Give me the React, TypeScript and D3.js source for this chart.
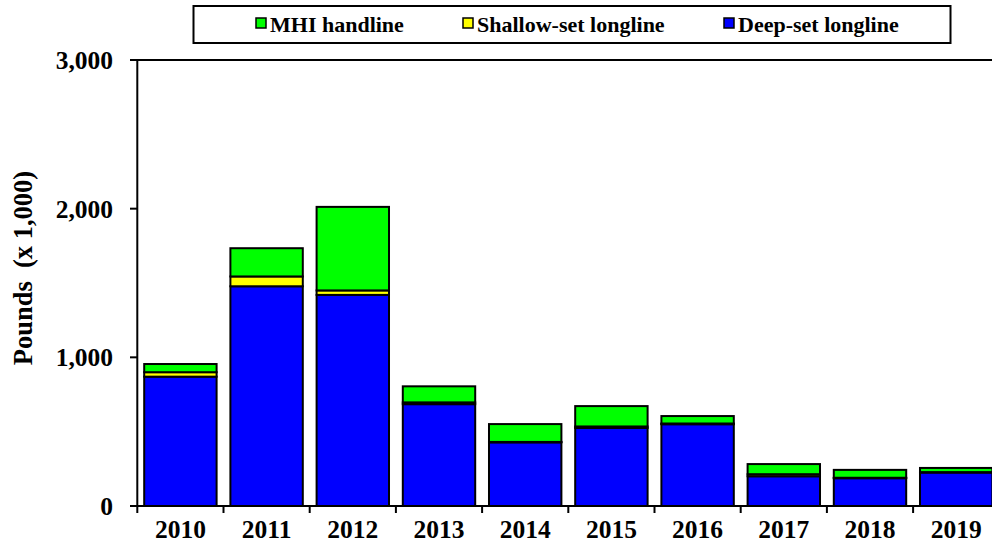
import React from "react";
import * as d3 from "d3";

const years = ["2010", "2011", "2012", "2013", "2014", "2015", "2016", "2017", "2018", "2019"];
const deepSet = [870, 1478, 1420, 685, 428, 525, 550, 200, 187, 225];
const shallowSet = [30, 66, 30, 12, 3, 10, 5, 14, 3, 3];
const mhiHandline = [55, 190, 562, 108, 120, 137, 50, 68, 53, 28];
const yTicks = [0, 1000, 2000, 3000];
const seriesNames = ["Deep-set longline", "Shallow-set longline", "MHI handline"];
const seriesColors = ["#0000FF", "#FFFF00", "#00FF00"];
const legendOrder = [2, 1, 0];

const W = 992;
const H = 546;
const FONT = "'Liberation Serif', 'Times New Roman', serif";

export default function App() {
  const x0 = 137.3;
  const x1 = 999.3;
  const yTop = 60;
  const yBottom = 506;

  const x = d3.scaleBand<string>().domain(years).range([x0, x1]).paddingInner(0.16).paddingOuter(0.08);
  const step = x.step();
  const y = d3.scaleLinear().domain([0, 3000]).range([yBottom, yTop]);

  const table = years.map((yr, i) => ({ year: yr, deep: deepSet[i], shallow: shallowSet[i], mhi: mhiHandline[i] }));
  const stack = d3.stack<any>().keys(["deep", "shallow", "mhi"]);
  const layers = stack(table);

  const fmt = d3.format(",");

  const legendX = [256, 463, 724];

  return (
    <svg width={W} height={H} style={{ position: "absolute", left: 0, top: 0, background: "#fff" }} fontFamily={FONT} fontWeight="bold">
      {/* top border line */}
      <line x1={130} x2={W} y1={yTop} y2={yTop} stroke="#000" strokeWidth={2} />
      {/* bars */}
      {layers.map((layer, li) => (
        <g key={li}>
          {layer.map((d, i) => (
            <rect
              key={i}
              x={x(years[i])!}
              width={x.bandwidth()}
              y={y(d[1])}
              height={Math.max(0, y(d[0]) - y(d[1]))}
              fill={seriesColors[li]}
              stroke="#000"
              strokeWidth={2}
            />
          ))}
        </g>
      ))}
      {/* y axis */}
      <line x1={x0} x2={x0} y1={yTop} y2={yBottom} stroke="#000" strokeWidth={2} />
      {yTicks.map((t) => (
        <g key={t}>
          <line x1={130} x2={x0} y1={y(t)} y2={y(t)} stroke="#000" strokeWidth={2} />
          <text x={113} y={y(t)} dy="0.35em" textAnchor="end" fontSize={25.5}>
            {fmt(t)}
          </text>
        </g>
      ))}
      {/* x axis */}
      <line x1={130} x2={W} y1={yBottom} y2={yBottom} stroke="#000" strokeWidth={2} />
      {years.map((yr, i) => (
        <g key={yr}>
          <line x1={x0 + i * step} x2={x0 + i * step} y1={yBottom} y2={yBottom + 7} stroke="#000" strokeWidth={2} />
          <text x={x(yr)! + x.bandwidth() / 2} y={538} textAnchor="middle" fontSize={25.5}>
            {yr}
          </text>
        </g>
      ))}
      {/* y title */}
      <text transform={`translate(32,268) rotate(-90)`} textAnchor="middle" fontSize={26.5} xmlSpace="preserve">
        {"Pounds  (x 1,000)"}
      </text>
      {/* legend */}
      <rect x={193.5} y={6} width={757} height={37} fill="#fff" stroke="#000" strokeWidth={2} />
      {legendOrder.map((si, k) => (
        <g key={si}>
          <rect x={legendX[k]} y={18} width={10} height={10} fill={seriesColors[si]} stroke="#000" strokeWidth={1.5} />
          <text x={legendX[k] + 14} y={31.5} fontSize={22}>
            {seriesNames[si]}
          </text>
        </g>
      ))}
    </svg>
  );
}
